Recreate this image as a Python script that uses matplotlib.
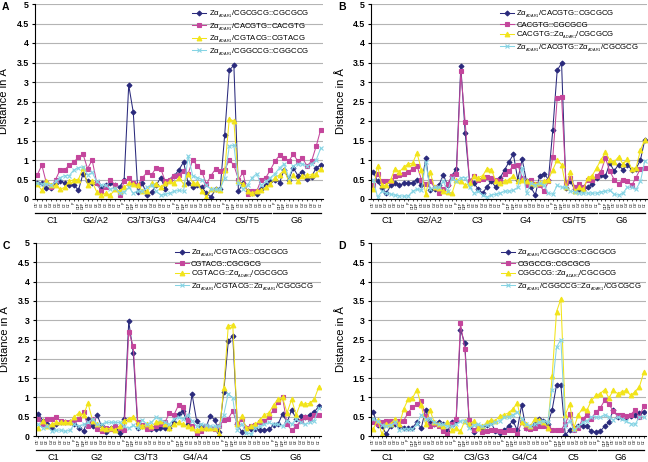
#!/usr/bin/env python3
# -*- coding: utf-8 -*-
# distance plots, four panels
import numpy as np
import matplotlib
matplotlib.use('Agg')
import matplotlib.pyplot as plt
import matplotlib.ticker as mtick

plt.rcParams['font.family'] = ['Liberation Sans', 'DejaVu Sans']
plt.rcParams['mathtext.fontset'] = 'custom'
plt.rcParams['mathtext.rm'] = 'Liberation Sans'

# atom labels along x (first nucleotide has no phosphate)
first_atoms = ["O5'", "C5'", "C4'", "O4'", "C3'", "O3'", "C2'", "C1'"]
other_atoms = ["P", "O1P", "O2P", "O5'", "C5'", "C4'", "O4'", "C3'", "O3'", "C2'", "C1'"]
atom_labels = first_atoms + other_atoms * 5

Z = 'Z\u03b1$_{_{\\mathrm{ADAR1}}}$'

# ---- panel A ----
a_groups = ['C1', 'G2/A2', 'C3/T3/G3', 'G4/A4/C4', 'C5/T5', 'G6']
a_names = [Z + '/CGCGCG::CGCGCG', Z + '/CACGTG::CACGTG',
           Z + '/CGTACG::CGTACG', Z + '/CGGCCG::CGGCCG']
a_navy = [0.4, 0.4, 0.28, 0.27, 0.4, 0.47, 0.4, 0.35, 0.37, 0.22, 0.65, 0.45, 0.42, 0.4, 0.3, 0.35,
          0.4, 0.35, 0.3, 0.5, 2.92, 2.22, 0.18, 0.4, 0.1, 0.18, 0.35, 0.55, 0.25, 0.5, 0.6, 0.75,
          0.95, 0.4, 0.3, 0.35, 0.3, 0.15, 0.05, 0.25, 0.25, 1.65, 3.3, 3.43, 0.2, 0.4, 0.2, 0.15,
          0.12, 0.25, 0.35, 0.45, 0.5, 0.42, 0.75, 0.5, 0.8, 0.6, 0.7, 0.52, 0.57, 0.8, 0.87]
a_magenta = [0.62, 0.87, 0.4, 0.3, 0.5, 0.75, 0.75, 0.87, 0.95, 1.07, 1.15, 0.78, 1.0, 0.42, 0.2, 0.3,
             0.5, 0.35, 0.1, 0.45, 0.53, 0.4, 0.35, 0.55, 0.68, 0.62, 0.8, 0.78, 0.45, 0.5, 0.6, 0.62,
             0.72, 0.65, 1.0, 0.85, 0.7, 0.38, 0.6, 0.77, 0.73, 0.75, 1.0, 0.87, 0.5, 0.68, 0.12, 0.2,
             0.2, 0.5, 0.55, 0.75, 0.97, 1.12, 1.05, 0.97, 1.15, 0.97, 1.05, 0.85, 0.97, 1.35, 1.78]
a_yellow = [0.38, 0.22, 0.47, 0.37, 0.35, 0.25, 0.3, 0.45, 0.5, 0.5, 0.8, 0.37, 0.45, 0.18, 0.1, 0.15,
            0.1, 0.25, 0.2, 0.3, 0.4, 0.38, 0.35, 0.2, 0.2, 0.4, 0.38, 0.3, 0.4, 0.45, 0.4, 0.55,
            0.38, 0.65, 0.42, 0.4, 0.2, 0.05, 0.25, 0.25, 0.22, 0.75, 2.05, 2.0, 0.45, 0.38, 0.2, 0.15,
            0.2, 0.22, 0.3, 0.38, 0.55, 0.62, 0.75, 0.45, 0.62, 0.45, 0.6, 0.62, 0.62, 0.65, 0.78]
a_cyan = [0.4, 0.38, 0.38, 0.35, 0.45, 0.55, 0.6, 0.6, 0.75, 0.8, 0.82, 0.62, 0.68, 0.45, 0.35, 0.35,
          0.25, 0.28, 0.15, 0.18, 0.3, 0.15, 0.2, 0.2, 0.3, 0.35, 0.2, 0.1, 0.12, 0.15, 0.2, 0.22,
          0.2, 1.1, 0.6, 0.55, 0.5, 0.35, 0.25, 0.25, 0.25, 0.55, 1.35, 1.38, 0.4, 0.25, 0.35, 0.55,
          0.65, 0.35, 0.45, 0.55, 0.65, 0.8, 0.9, 0.55, 0.85, 0.9, 0.9, 0.85, 0.9, 1.0, 1.3]

# ---- panel B ----
b_groups = ['C1', 'G2/A2', 'C3', 'G4', 'C5/T5', 'G6']
b_names = [Z + '/CACGTG::CGCGCG', 'CACGTG::CGCGCG',
           'CACGTG::' + Z + '/CGCGCG', Z + '/CACGTG::' + Z + '/CGCGCG']
b_navy = [0.7, 0.45, 0.28, 0.15, 0.35, 0.42, 0.35, 0.4, 0.4, 0.42, 0.5, 0.35, 1.05, 0.22, 0.25, 0.35,
          0.62, 0.35, 0.6, 0.78, 3.4, 1.7, 0.45, 0.4, 0.25, 0.15, 0.32, 0.45, 0.3, 0.55, 0.75, 0.95,
          1.15, 0.5, 1.02, 0.45, 0.3, 0.1, 0.6, 0.65, 0.5, 1.78, 3.3, 3.48, 0.28, 0.45, 0.25, 0.22,
          0.22, 0.3, 0.38, 0.55, 0.62, 0.58, 0.92, 0.72, 0.88, 0.75, 0.88, 0.75, 0.78, 1.0, 1.52]
b_magenta = [0.35, 0.65, 0.45, 0.47, 0.45, 0.6, 0.62, 0.65, 0.7, 0.77, 0.85, 0.5, 0.38, 0.45, 0.3, 0.15,
             0.25, 0.38, 0.6, 0.65, 3.27, 1.97, 0.45, 0.6, 0.5, 0.52, 0.57, 0.55, 0.5, 0.45, 0.65, 0.72,
             0.85, 0.88, 0.55, 0.35, 0.48, 0.38, 0.35, 0.2, 0.45, 1.07, 2.58, 2.62, 0.42, 0.55, 0.32, 0.38,
             0.32, 0.48, 0.5, 0.6, 0.7, 1.05, 0.72, 0.5, 0.38, 0.5, 0.45, 0.35, 0.55, 0.78, 0.8]
b_yellow = [0.25, 0.85, 0.35, 0.35, 0.5, 0.78, 0.7, 0.82, 0.9, 0.92, 1.18, 0.75, 0.12, 0.68, 0.3, 0.28,
            0.2, 0.18, 0.15, 0.5, 0.45, 0.35, 0.4, 0.58, 0.55, 0.6, 0.78, 0.75, 0.45, 0.42, 0.45, 0.5,
            0.6, 0.45, 0.48, 0.45, 0.42, 0.38, 0.42, 0.45, 0.5, 0.75, 1.0, 0.88, 0.3, 0.68, 0.2, 0.3,
            0.25, 0.55, 0.6, 0.8, 1.0, 1.2, 1.0, 0.95, 1.08, 0.9, 1.02, 0.78, 0.8, 1.25, 1.52]
b_cyan = [0.5, 0.05, 0.2, 0.15, 0.12, 0.1, 0.08, 0.07, 0.08, 0.2, 0.25, 0.22, 0.95, 0.25, 0.3, 0.3,
          0.45, 0.2, 0.55, 0.45, 0.55, 0.55, 0.3, 0.15, 0.2, 0.1, 0.05, 0.1, 0.12, 0.15, 0.2, 0.2,
          0.22, 0.3, 0.8, 0.15, 0.4, 0.35, 0.4, 0.35, 0.15, 0.12, 0.35, 0.3, 0.3, 0.2, 0.18, 0.15,
          0.15, 0.15, 0.15, 0.15, 0.18, 0.2, 0.22, 0.12, 0.1, 0.15, 0.3, 0.3, 0.25, 0.45, 0.98]

# ---- panel C ----
c_groups = ['C1', 'G2', 'C3/T3', 'G4/A4', 'C5', 'G6']
c_names = [Z + '/CGTACG::CGCGCG', 'CGTACG::CGCGCG',
           'CGTACG::' + Z + '/CGCGCG', Z + '/CGTACG::' + Z + '/CGCGCG']
c_navy = [0.58, 0.4, 0.32, 0.22, 0.32, 0.35, 0.35, 0.35, 0.32, 0.22, 0.12, 0.45, 0.25, 0.55, 0.25, 0.1,
          0.2, 0.18, 0.08, 0.45, 2.97, 2.15, 0.22, 0.25, 0.2, 0.18, 0.18, 0.2, 0.2, 0.2, 0.35, 0.58,
          0.65, 0.3, 1.08, 0.4, 0.25, 0.2, 0.52, 0.42, 0.1, 1.15, 2.45, 2.6, 0.3, 0.1, 0.2, 0.18,
          0.18, 0.15, 0.15, 0.17, 0.28, 0.3, 0.58, 0.35, 0.68, 0.45, 0.52, 0.5, 0.55, 0.62, 0.77]
c_magenta = [0.45, 0.3, 0.45, 0.45, 0.48, 0.38, 0.35, 0.35, 0.42, 0.45, 0.62, 0.25, 0.45, 0.18, 0.12, 0.2,
             0.18, 0.25, 0.2, 0.15, 2.7, 2.33, 0.35, 0.28, 0.18, 0.22, 0.25, 0.3, 0.35, 0.6, 0.55, 0.8,
             0.75, 0.42, 0.25, 0.05, 0.12, 0.25, 0.2, 0.18, 0.25, 0.42, 0.45, 0.65, 0.3, 0.45, 0.22, 0.25,
             0.28, 0.35, 0.38, 0.5, 0.68, 0.88, 1.0, 0.3, 0.15, 0.25, 0.4, 0.5, 0.45, 0.55, 0.55]
c_yellow = [0.2, 0.4, 0.25, 0.3, 0.35, 0.35, 0.35, 0.35, 0.5, 0.6, 0.55, 0.85, 0.4, 0.3, 0.22, 0.18,
            0.2, 0.15, 0.25, 0.4, 0.45, 0.5, 0.3, 0.25, 0.3, 0.25, 0.35, 0.4, 0.3, 0.2, 0.3, 0.35,
            0.3, 0.25, 0.2, 0.15, 0.2, 0.2, 0.2, 0.2, 0.05, 1.25, 2.85, 2.88, 0.3, 0.52, 0.2, 0.25,
            0.3, 0.42, 0.55, 0.6, 0.8, 0.95, 1.0, 0.6, 0.95, 0.55, 0.85, 0.82, 0.85, 0.95, 1.27]
c_cyan = [0.3, 0.2, 0.25, 0.12, 0.15, 0.15, 0.12, 0.15, 0.3, 0.25, 0.3, 0.35, 0.45, 0.3, 0.3, 0.35,
          0.35, 0.35, 0.35, 0.25, 0.2, 0.28, 0.2, 0.42, 0.3, 0.35, 0.48, 0.45, 0.35, 0.3, 0.45, 0.48,
          0.45, 0.55, 0.4, 0.25, 0.3, 0.28, 0.25, 0.25, 0.25, 0.55, 1.1, 0.98, 0.15, 0.3, 0.08, 0.05,
          0.2, 0.25, 0.3, 0.35, 0.3, 0.3, 0.25, 0.4, 0.3, 0.45, 0.35, 0.3, 0.35, 0.4, 0.72]

# ---- panel D ----
d_groups = ['C1', 'G2', 'C3/G3', 'G4/C4', 'C5', 'G6']
d_names = [Z + '/CGGCCG::CGCGCG', 'CGGCCG::CGCGCG',
           'CGGCCG::' + Z + '/CGCGCG', Z + '/CGGCCG::' + Z + '/CGCGCG']
d_navy = [0.62, 0.28, 0.25, 0.05, 0.25, 0.3, 0.25, 0.22, 0.22, 0.22, 0.35, 0.2, 0.68, 0.38, 0.3, 0.35,
          0.3, 0.12, 0.35, 0.38, 2.75, 2.4, 0.3, 0.1, 0.22, 0.22, 0.28, 0.35, 0.12, 0.07, 0.15, 0.25,
          0.4, 0.15, 0.8, 0.2, 0.2, 0.3, 0.45, 0.4, 0.3, 0.68, 1.32, 1.32, 0.03, 0.15, 0.2, 0.25,
          0.25, 0.25, 0.12, 0.1, 0.12, 0.25, 0.35, 0.68, 0.5, 0.5, 0.5, 0.52, 0.55, 0.6, 0.63]
d_magenta = [0.35, 0.3, 0.35, 0.4, 0.4, 0.35, 0.4, 0.4, 0.6, 0.75, 0.82, 0.9, 0.52, 0.25, 0.3, 0.25,
             0.12, 0.05, 0.3, 0.45, 2.92, 2.25, 0.42, 0.15, 0.2, 0.1, 0.12, 0.15, 0.15, 0.12, 0.1, 0.15,
             0.15, 0.05, 0.35, 0.2, 0.18, 0.2, 0.25, 0.25, 0.22, 0.15, 0.15, 0.15, 0.32, 0.57, 0.15, 0.2,
             0.45, 0.55, 0.45, 0.62, 0.72, 0.92, 0.82, 0.65, 0.55, 0.55, 0.52, 0.55, 0.68, 0.5, 0.78]
d_yellow = [0.18, 0.42, 0.05, 0.3, 0.3, 0.45, 0.3, 0.7, 0.95, 0.98, 1.2, 0.8, 0.3, 0.68, 0.35, 0.3,
            0.25, 0.35, 0.15, 0.2, 0.12, 0.4, 0.3, 0.38, 0.22, 0.25, 0.35, 0.42, 0.4, 0.52, 0.55, 0.6,
            0.7, 0.85, 0.35, 0.3, 0.25, 0.45, 0.42, 0.35, 0.22, 1.55, 3.22, 3.55, 0.55, 0.82, 0.22, 0.55,
            0.72, 0.68, 0.92, 1.05, 1.1, 1.2, 0.98, 1.18, 1.1, 1.15, 1.18, 1.05, 1.15, 1.28, 1.65]
d_cyan = [0.45, 0.38, 0.28, 0.25, 0.28, 0.35, 0.15, 0.18, 0.18, 0.18, 0.3, 0.55, 0.45, 0.45, 0.35, 0.3,
          0.3, 0.25, 0.25, 0.3, 0.38, 0.4, 0.2, 0.28, 0.3, 0.25, 0.28, 0.3, 0.35, 0.4, 0.48, 0.5,
          0.55, 0.62, 0.45, 0.32, 0.25, 0.3, 0.35, 0.4, 0.35, 1.2, 2.3, 2.5, 0.25, 0.4, 0.15, 0.25,
          0.35, 0.4, 0.5, 0.5, 0.48, 0.55, 0.5, 0.42, 0.5, 0.45, 0.38, 0.32, 0.3, 0.5, 0.5]

colors = ['#2a2a7c', '#c4469c', '#f2e41a', '#86d4e4']
markers = ['D', 's', '^', 'x']
msizes = [2.5, 3.2, 3.4, 3.4]
group_sizes = [8, 11, 11, 11, 11, 11]


def draw_panel(ax, letter, series, names, groups, legend_x):
    x = np.arange(len(atom_labels))
    for i, ys in enumerate(series):
        ax.plot(x, ys, color=colors[i], marker=markers[i], markersize=msizes[i],
                markeredgewidth=0.8, linewidth=0.75, label=names[i])

    ax.set_xlim(-0.5, len(atom_labels) - 0.5)
    ax.set_ylim(0, 5)
    ax.yaxis.set_major_locator(mtick.MultipleLocator(0.5))
    ax.yaxis.set_major_formatter(mtick.FuncFormatter(lambda v, p: '%g' % v))
    ax.grid(axis='y', color='#b4b4b4', linewidth=0.8)
    ax.set_axisbelow(True)
    for s in ['top', 'right']:
        ax.spines[s].set_visible(False)
    ax.tick_params(axis='y', labelsize=6.3, length=2.5, width=0.8, pad=2)
    for t in ax.get_yticklabels():
        t.set_fontweight('bold')
    ax.set_xticks(x)
    ax.set_xticklabels(atom_labels, rotation=90, fontsize=2.6)
    ax.tick_params(axis='x', length=1.5, width=0.5, pad=0.5)
    ax.set_ylabel('Distance in Å', fontsize=8)
    ax.yaxis.set_label_coords(-0.09, 0.5)

    # nucleotide group underlines and names
    trans = ax.get_xaxis_transform()
    start = 0
    for g, n in zip(groups, group_sizes):
        x0 = start - 0.5 if start == 0 else start - 0.45
        x1 = start + n - 0.95
        ax.plot([x0, x1], [-0.074, -0.074], color='black', linewidth=0.9,
                transform=trans, clip_on=False)
        ax.text((x0 + x1) / 2, -0.111, g, transform=trans, ha='center', va='center',
                fontsize=6.6)
        start += n

    ax.legend(loc='upper left', bbox_to_anchor=(legend_x, 1.0), frameon=False,
              fontsize=5.6, handlelength=1.8, handletextpad=0.3, labelspacing=0.12,
              borderaxespad=0.3, borderpad=0.3)
    ax.figure.text(ax.get_position().x0 - 0.051, ax.get_position().y1 + 0.004, letter,
                   fontsize=7.5, fontweight='bold', va='top')


def main():
    fig = plt.figure(figsize=(6.48, 4.62), dpi=100)
    ax_a = fig.add_axes([35 / 648, 1 - 199 / 462, 288 / 648, 195 / 462])
    ax_b = fig.add_axes([371 / 648, 1 - 199 / 462, 276 / 648, 195 / 462])
    ax_c = fig.add_axes([36 / 648, 1 - 436 / 462, 285 / 648, 193 / 462])
    ax_d = fig.add_axes([371 / 648, 1 - 436 / 462, 275 / 648, 193 / 462])

    draw_panel(ax_a, 'A', [a_navy, a_magenta, a_yellow, a_cyan], a_names, a_groups, 0.53)
    draw_panel(ax_b, 'B', [b_navy, b_magenta, b_yellow, b_cyan], b_names, b_groups, 0.45)
    draw_panel(ax_c, 'C', [c_navy, c_magenta, c_yellow, c_cyan], c_names, c_groups, 0.47)
    draw_panel(ax_d, 'D', [d_navy, d_magenta, d_yellow, d_cyan], d_names, d_groups, 0.455)

    fig.savefig('out.png', dpi=100)


if __name__ == "__main__":
    main()
